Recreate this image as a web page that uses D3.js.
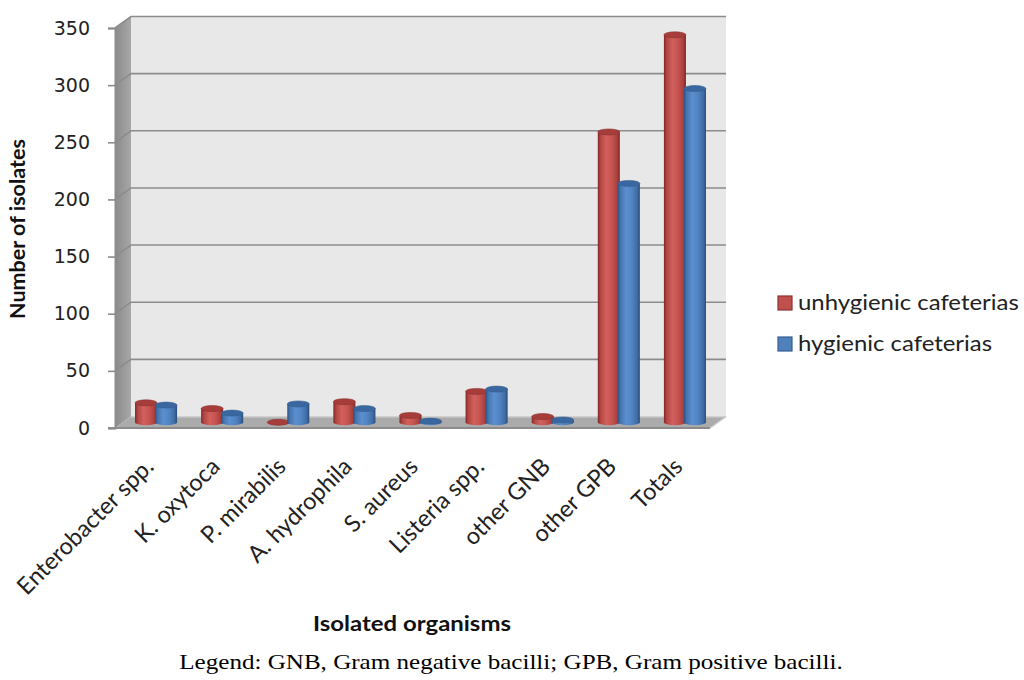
<!DOCTYPE html>
<html lang="en">
<head>
  <meta charset="UTF-8">
  <title>Isolated organisms by cafeteria hygiene</title>
  <style>
    body { margin: 0; background: #fff; }
    svg { display: block; }
    .tick-label { font-family: "DejaVu Sans", sans-serif; font-size: 19px; fill: #222; }
    .cat-label { font-family: Lato, "Open Sans", sans-serif; font-size: 23.5px; fill: #222; }
    .title { font-family: Lato, "Open Sans", sans-serif; font-size: 21px; font-weight: bold; fill: #111; }
    .ytitle { font-family: Lato, "Open Sans", sans-serif; font-size: 21.5px; font-weight: bold; fill: #111; }
    .legend { font-family: Lato, "Open Sans", sans-serif; font-size: 21px; fill: #222; }
    .caption { font-family: "Liberation Serif", "Times New Roman", serif; font-size: 22px; fill: #000; }
  </style>
  <script src="https://d3js.org/d3.v7.min.js"></script>
</head>
<body>
<svg width="1024" height="680"></svg>
<script>
  const categories = ["Enterobacter spp.", "K. oxytoca", "P. mirabilis", "A. hydrophila",
    "S. aureus", "Listeria spp.", "other GNB", "other GPB", "Totals"];
  const seriesNames = ["unhygienic cafeterias", "hygienic cafeterias"];
  const unhygienic = [17, 12, 0, 18, 6, 27, 5, 254, 339];
  const hygienic = [15, 8, 16, 12, 1, 29, 2, 209, 292];
  const yTicks = [0, 50, 100, 150, 200, 250, 300, 350];

  const svg = d3.select("svg");

  // front plane of the 3D box, plus depth offset to the back wall
  const plotLeft = 115, plotRight = 710, plotTop = 28, plotBottom = 428;
  const depthX = 16, depthY = -11.5;
  const stretch = 1.14; // the source picture's text is a bit wide

  const x0 = d3.scaleBand().domain(categories).range([plotLeft, plotRight]);
  const x1 = d3.scaleBand().domain(seriesNames).range([0, x0.bandwidth()]).paddingOuter(0.65);
  const y = d3.scaleLinear().domain([0, 350]).range([plotBottom, plotTop]);

  const defs = svg.append("defs");

  const sideGrad = defs.append("linearGradient").attr("id", "side");
  sideGrad.append("stop").attr("offset", "0%").attr("stop-color", "#8a8a8a");
  sideGrad.append("stop").attr("offset", "100%").attr("stop-color", "#a8a8a8");

  const palettes = {
    "unhygienic cafeterias": {
      id: "redBody", cap: "#a63d3a", swatch: "#c0504d", edge: "#8c3330",
      stops: ["#7f2826", "#b04542", "#d2605c", "#c5534f", "#a8403d", "#7a2624"]
    },
    "hygienic cafeterias": {
      id: "blueBody", cap: "#3b67a0", swatch: "#4f81bd", edge: "#35608f",
      stops: ["#2b5184", "#4575ad", "#5b8fd0", "#5083c0", "#3f6ca3", "#284c7a"]
    }
  };
  const offsets = [0, 12, 38, 65, 88, 100];
  Object.values(palettes).forEach(p => {
    const g = defs.append("linearGradient").attr("id", p.id);
    g.selectAll("stop").data(p.stops).enter().append("stop")
      .attr("offset", (d, i) => offsets[i] + "%")
      .attr("stop-color", d => d);
  });

  // back wall
  svg.append("rect")
    .attr("x", plotLeft + depthX).attr("y", plotTop + depthY)
    .attr("width", plotRight - plotLeft).attr("height", plotBottom - plotTop)
    .attr("fill", "#e8e8e8");

  // side wall
  svg.append("polygon")
    .attr("points", [[plotLeft, plotTop], [plotLeft + depthX, plotTop + depthY],
      [plotLeft + depthX, plotBottom + depthY], [plotLeft, plotBottom]].join(" "))
    .attr("fill", "url(#side)");

  // floor
  svg.append("polygon")
    .attr("points", [[plotLeft, plotBottom], [plotLeft + depthX, plotBottom + depthY],
      [plotRight + depthX, plotBottom + depthY], [plotRight, plotBottom]].join(" "))
    .attr("fill", "#ababab");
  svg.append("line")
    .attr("x1", plotLeft + depthX).attr("x2", plotRight + depthX)
    .attr("y1", plotBottom + depthY + 0.5).attr("y2", plotBottom + depthY + 0.5)
    .attr("stroke", "#d0d0d0").attr("stroke-width", 1);

  // gridlines bending over the side wall
  svg.append("g").selectAll("polyline")
    .data(yTicks.filter(d => d > 0))
    .enter().append("polyline")
      .attr("points", d => [[plotLeft, y(d)], [plotLeft + depthX, y(d) + depthY],
        [plotRight + depthX, y(d) + depthY]].join(" "))
      .attr("fill", "none")
      .attr("stroke", "#8c8c8c")
      .attr("stroke-width", 1.6);

  // y axis
  const yAxis = svg.append("g")
    .attr("transform", `translate(${plotLeft},0)`)
    .call(d3.axisLeft(y).tickValues(yTicks).tickSize(7).tickPadding(18));
  yAxis.attr("font-family", null).attr("font-size", null);
  yAxis.select(".domain").attr("stroke", "#8c8c8c").attr("stroke-width", 2);
  yAxis.selectAll(".tick line").attr("stroke", "#8c8c8c").attr("stroke-width", 1.6);
  yAxis.selectAll(".tick text").attr("class", "tick-label").attr("fill", null);

  // front floor edge
  svg.append("line")
    .attr("x1", plotLeft - 7).attr("x2", plotRight)
    .attr("y1", plotBottom).attr("y2", plotBottom)
    .attr("stroke", "#8c8c8c").attr("stroke-width", 2);
  svg.append("line")
    .attr("x1", plotRight).attr("x2", plotRight + depthX)
    .attr("y1", plotBottom).attr("y2", plotBottom + depthY)
    .attr("stroke", "#c8c8c8").attr("stroke-width", 1.5);

  // cylinders, sitting halfway into the depth
  const rows = [];
  categories.forEach((c, i) => {
    rows.push({ cat: c, series: seriesNames[0], value: unhygienic[i] });
    rows.push({ cat: c, series: seriesNames[1], value: hygienic[i] });
  });

  const rx = x1.bandwidth() / 2 + 1, ry = 3;
  const bars = svg.append("g").selectAll("g")
    .data(rows)
    .enter().append("g")
      .attr("transform", d => {
        const cx = x0(d.cat) + x1(d.series) + x1.bandwidth() / 2 + depthX / 2;
        return `translate(${cx},${depthY / 2})`;
      });

  bars.append("path")
    .attr("d", d => {
      const yb = y(0), yt = y(d.value);
      return `M${-rx},${yt} L${-rx},${yb} A${rx},${ry} 0 0 0 ${rx},${yb} L${rx},${yt} Z`;
    })
    .attr("fill", d => `url(#${palettes[d.series].id})`);

  bars.append("ellipse")
    .attr("cx", 0)
    .attr("cy", d => y(d.value))
    .attr("rx", rx).attr("ry", ry)
    .attr("fill", d => palettes[d.series].cap)
    .attr("stroke", d => palettes[d.series].edge)
    .attr("stroke-width", 0.6);

  // category labels
  svg.append("g").selectAll("text")
    .data(categories)
    .enter().append("text")
      .attr("class", "cat-label")
      .attr("text-anchor", "end")
      .attr("transform", d => `translate(${x0(d) + x0.bandwidth() / 2 + 7},${plotBottom + 40}) rotate(-45)`)
      .text(d => d);

  // axis titles
  svg.append("text")
    .attr("class", "ytitle")
    .attr("text-anchor", "middle")
    .attr("transform", `translate(25,229) rotate(-90)`)
    .text("Number of isolates");

  svg.append("text")
    .attr("class", "title")
    .attr("text-anchor", "middle")
    .attr("transform", `translate(412,631) scale(${stretch},1)`)
    .text("Isolated organisms");

  // legend
  const legend = svg.append("g").attr("transform", "translate(778,296)");
  const item = legend.selectAll("g")
    .data(seriesNames)
    .enter().append("g")
      .attr("transform", (d, i) => `translate(0,${i * 41})`);
  item.append("rect")
    .attr("width", 14).attr("height", 14)
    .attr("fill", d => palettes[d].swatch)
    .attr("stroke", d => palettes[d].edge)
    .attr("stroke-width", 1.2);
  item.append("text")
    .attr("class", "legend")
    .attr("transform", `translate(20,14) scale(${stretch},1)`)
    .text(d => d);

  // caption
  svg.append("text")
    .attr("class", "caption")
    .attr("text-anchor", "middle")
    .attr("transform", `translate(511,669) scale(${stretch},1)`)
    .text("Legend: GNB, Gram negative bacilli; GPB, Gram positive bacilli.");
</script>
</body>
</html>
